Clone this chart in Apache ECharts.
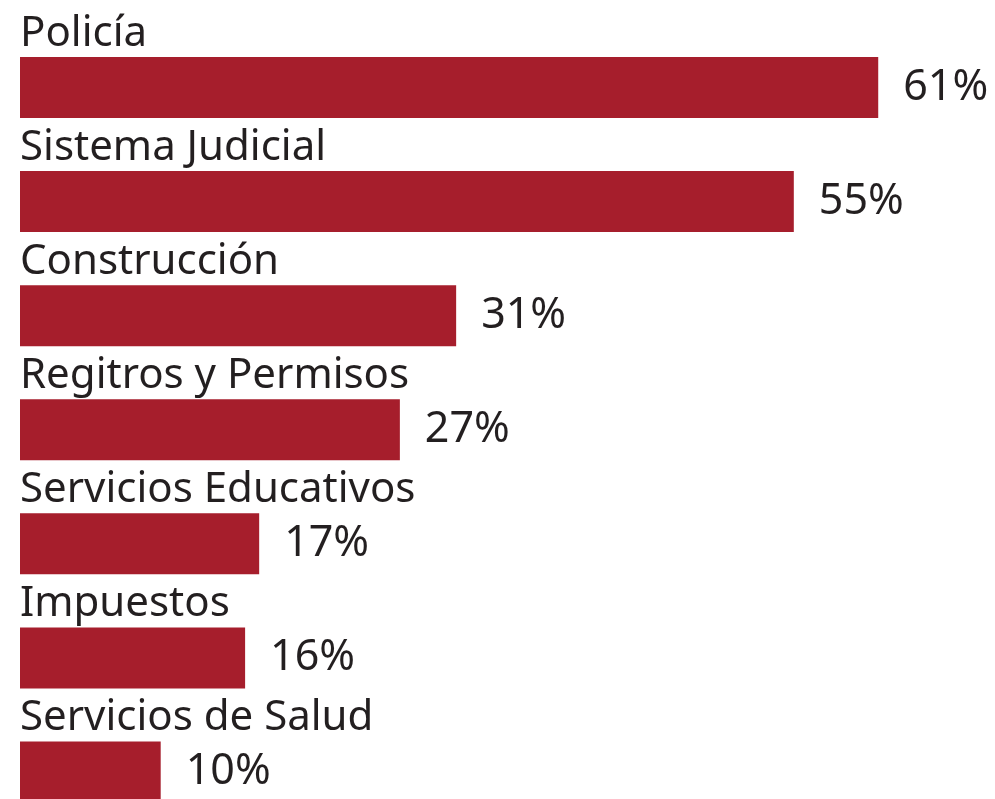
<!DOCTYPE html>
<html>
<head>
    <meta charset="utf-8">
    <title>Instituciones</title>
    <script src="https://cdn.jsdelivr.net/npm/echarts@6/dist/echarts.min.js"></script>
    <style type="text/css">
    html, body { margin: 0; padding: 0; background: #fff; overflow: hidden; }
    /* the last bar runs off the bottom edge in the original, so the chart is taller than the window */
    #main { width: 995px; height: 829px; }
    </style>
</head>
<body>
    <div id="main"></div>
    <script type="text/javascript">
    var categories = ['Policía', 'Sistema Judicial', 'Construcción', 'Regitros y Permisos',
        'Servicios Educativos', 'Impuestos', 'Servicios de Salud'];
    var values = [61, 55, 31, 27, 17, 16, 10];

    var myChart = echarts.init(document.getElementById('main'));
    var textColor = '#231f20';
    var fontName = '"Noto Sans", sans-serif';

    myChart.setOption({
        backgroundColor: '#fff',
        animation: false,
        grid: { left: 20, right: 0, top: 30.5, bottom: 0 },
        xAxis: {
            type: 'value',
            min: 0,
            max: 69.3,
            show: false
        },
        yAxis: {
            type: 'category',
            inverse: true,
            data: categories,
            axisLine: { show: false },
            axisTick: { show: false },
            axisLabel: { show: false }
        },
        series: [{
            type: 'bar',
            data: values,
            barWidth: 61,
            itemStyle: { color: '#a61e2c' },
            label: {
                show: true,
                position: 'right',
                distance: 25,
                color: textColor,
                fontFamily: fontName,
                fontSize: 43,
                formatter: '{c}%'
            }
        }, {
            // category names drawn above each bar
            type: 'bar',
            data: values,
            barWidth: 61,
            barGap: '-100%',
            silent: true,
            itemStyle: { color: 'rgba(0,0,0,0)' },
            label: {
                show: true,
                position: [0, -2],
                align: 'left',
                verticalAlign: 'bottom',
                color: textColor,
                fontFamily: fontName,
                fontSize: 42,
                formatter: function (p) { return p.name; }
            }
        }]
    });
    </script>
</body>
</html>
